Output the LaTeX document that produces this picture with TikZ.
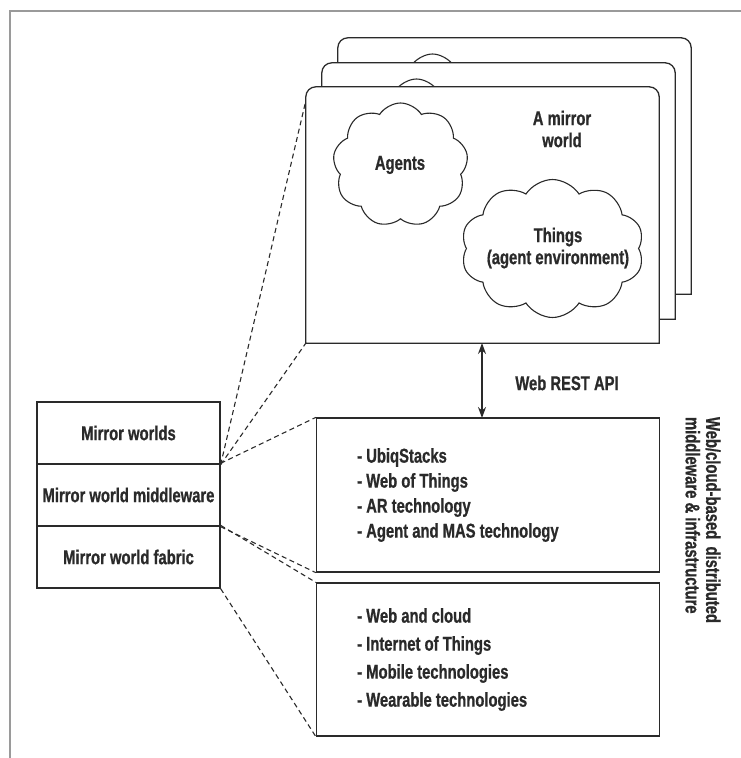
\documentclass[tikz,border=0pt]{standalone}
\usepackage{fontspec}
\setmainfont{Liberation Sans}[FakeStretch=0.74, BoldFeatures={FakeBold=0.8}]
\usetikzlibrary{shapes.symbols,arrows.meta}

\definecolor{ink}{HTML}{2A2A2A}
\definecolor{framegray}{HTML}{9A9A9A}

\tikzset{
  lbl/.style={font=\fontsize{20}{22}\selectfont\bfseries, text=ink, inner sep=0pt},
  cardbox/.style={rectangle, inner sep=0pt, minimum width=353pt, minimum height=256pt},
  puff/.style={cloud, cloud puffs=9, cloud puff arc=115, draw=ink, line width=1.1pt, fill=white, inner sep=0pt},
  layer/.style={rectangle, draw=ink, line width=1.3pt, fill=white, minimum width=183pt, minimum height=62pt, inner sep=0pt, font=\fontsize{20}{22}\selectfont\bfseries, text=ink},
  techbox/.style={rectangle, draw=ink, line width=1.3pt, fill=white, minimum width=343pt, inner sep=0pt},
  link/.style={dashed, dash pattern=on 5pt off 3.5pt, draw=ink, line width=1.1pt},
}

\begin{document}
\begin{tikzpicture}[x=1pt,y=-1pt]
\useasboundingbox (0,0) rectangle (741,758);

% outer frame (top and left edges)
\draw[framegray, line width=1.4pt] (10,758) -- (10,11) -- (741,11);

% stacked mirror-world cards, back to front
\foreach \dx/\dy/\id in {32/-49/back, 16/-24/mid} {
  \begin{scope}[shift={(\dx,\dy)}]
    \node[cardbox] (card\id) at (482.5,215) {};
    \draw[ink, line width=1.3pt, fill=white]
      (card\id.south west) [rounded corners=10pt] -- (card\id.north west)
      -- (card\id.north east) [sharp corners] -- (card\id.south east) -- cycle;
    \node[puff, minimum width=135pt, minimum height=124pt] (agents\id) at (400.5,165) {};
    \node[puff, minimum width=183pt, minimum height=138pt, cloud puffs=10] (things\id) at (552.5,248.5) {};
  \end{scope}
}

\node[cardbox] (front) at (482.5,215) {};
\draw[ink, line width=1.3pt, fill=white]
  (front.south west) [rounded corners=10pt] -- (front.north west)
  -- (front.north east) [sharp corners] -- (front.south east) -- cycle;
\node[puff, minimum width=135pt, minimum height=124pt] (agents) at (400.5,165) {};
\node[puff, minimum width=183pt, minimum height=138pt, cloud puffs=10] (things) at (552.5,248.5) {};

\node[lbl] (agentstxt) at (400,165) {Agents};
\node[lbl, align=center] (thingstxt) at (558,248) {Things\\(agent environment)};
\node[lbl, align=center] (mirrortxt) at (562,129) {A mirror\\world};

% middleware and fabric boxes
\node[techbox, minimum height=154pt] (mware) at (488,495) {};
\node[techbox, minimum height=153pt] (fabric) at (488,659.5) {};

\node[lbl, anchor=west, align=left] (mwarelist) at (357,495)
  {- UbiqStacks\\[3pt]- Web of Things\\[3pt]- AR technology\\[3pt]- Agent and MAS technology};
\node[lbl, anchor=west, align=left] (fabriclist) at (357,659.5)
  {- Web and cloud\\[6pt]- Internet of Things\\[6pt]- Mobile technologies\\[6pt]- Wearable technologies};

% REST interface between the front card and the middleware
\draw[ink, line width=1.3pt, {Stealth[length=11pt,width=8pt]}-{Stealth[length=11pt,width=8pt]}]
  (482,343) coordinate (apitop) -- (482,418) coordinate (apibot);
\node[lbl] (apitxt) at (567,383) {Web REST API};

% side caption, read top to bottom
\node[lbl, rotate=-90, align=left, font=\fontsize{20}{20.5}\selectfont\bfseries] (side) at (703,520)
  {\makebox[206pt][s]{Web/cloud-based distributed}\\\makebox[206pt][l]{middleware \& infrastructure}};

% layer stack
\node[layer] (worlds) at (128.5,433) {Mirror worlds};
\node[layer] (middle) at (128.5,495) {Mirror world middleware};
\node[layer] (fab) at (128.5,557) {Mirror world fabric};

% dashed zoom lines from layers to their detail
\draw[link] (worlds.south east) -- ([yshift=-14pt]front.north west);
\draw[link] (worlds.south east) -- (front.south west);
\draw[link] (middle.north east) -- (mware.north west);
\draw[link] (middle.south east) -- (mware.south west);
\draw[link] (fab.north east) -- (fabric.north west);
\draw[link] (fab.south east) -- (fabric.south west);
\end{tikzpicture}
\end{document}
